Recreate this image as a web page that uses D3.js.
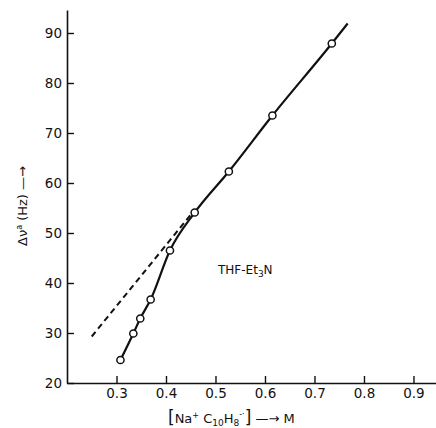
<!DOCTYPE html>
<html><head><meta charset="utf-8">
<script src="https://cdn.jsdelivr.net/npm/d3@7"></script>
<style>
body{margin:0;background:#fff;}
text{font-family:"DejaVu Sans",sans-serif;fill:#111;}
</style></head>
<body><svg id="c" width="436" height="428"></svg>
<script>
// measured points
const concM = [0.308, 0.334, 0.348, 0.369, 0.408, 0.458, 0.527, 0.615, 0.735];
const shiftHz = [24.6, 29.9, 32.9, 36.7, 46.5, 54.1, 62.3, 73.5, 87.9];
// smooth curve continues beyond last point
const curveEndX = [0.767];
const curveEndY = [91.9];
// dashed linear extrapolation
const dashX = [0.25, 0.452];
const dashY = [29.3, 53.9];
const xTicks = [0.3, 0.4, 0.5, 0.6, 0.7, 0.8, 0.9];
const xTickLabels = ["0.3","0.4","0.5","0.6","0.7","0.8","0.9"];
const yTicks = [20, 30, 40, 50, 60, 70, 80, 90];
const yTickLabels = ["20","30","40","50","60","70","80","90"];

const svg = d3.select("#c");
const x = d3.scaleLinear().domain([0.2, 0.9455]).range([67, 436]);
const y = d3.scaleLinear().domain([20, 94.6]).range([383, 10]);

const xAxis = d3.axisBottom(x).tickValues(xTicks).tickFormat((d,i)=>xTickLabels[i])
  .tickSizeInner(-7).tickSizeOuter(0).tickPadding(5);
const yAxis = d3.axisLeft(y).tickValues(yTicks).tickFormat((d,i)=>yTickLabels[i])
  .tickSizeInner(-7).tickSizeOuter(0).tickPadding(5);

const gx = svg.append("g").attr("transform","translate(0,383)").call(xAxis);
const gy = svg.append("g").attr("transform","translate(67,0)").call(yAxis);
[gx,gy].forEach(g=>{
  g.select(".domain").attr("stroke","#111").attr("stroke-width",1.6);
  g.selectAll(".tick line").attr("stroke","#111").attr("stroke-width",1.4);
  g.selectAll(".tick text").style("font-size","13.5px").style("font-family","DejaVu Sans, sans-serif").attr("fill","#111");
});

// dashed line
const dashData = dashX.map((d,i)=>[d, dashY[i]]);
svg.append("path").datum(dashData)
  .attr("d", d3.line().x(d=>x(d[0])).y(d=>y(d[1])))
  .attr("fill","none").attr("stroke","#111").attr("stroke-width",2)
  .attr("stroke-dasharray","6,4");

// solid curve
const curveData = concM.map((d,i)=>[d, shiftHz[i]]).concat(curveEndX.map((d,i)=>[d, curveEndY[i]]));
svg.append("path").datum(curveData)
  .attr("d", d3.line().x(d=>x(d[0])).y(d=>y(d[1])).curve(d3.curveMonotoneX))
  .attr("fill","none").attr("stroke","#111").attr("stroke-width",2.2);

// markers
svg.selectAll("circle.pt").data(concM).enter().append("circle")
  .attr("class","pt")
  .attr("cx", d=>x(d)).attr("cy", (d,i)=>y(shiftHz[i]))
  .attr("r",3.6).attr("fill","#fff").attr("stroke","#111").attr("stroke-width",1.5);

// annotation
const ann = svg.append("text").attr("x",218).attr("y",274).style("font-size","12px");
ann.append("tspan").text("THF-Et");
ann.append("tspan").attr("dy",3).style("font-size","9px").text("3");
ann.append("tspan").attr("dy",-3).text("N");

// x label
const xl = svg.append("text").attr("x",168).attr("y",423).style("font-size","13px");
xl.append("tspan").style("font-size","17px").text("[");
xl.append("tspan").text("Na");
xl.append("tspan").attr("dy",-5).style("font-size","8px").text("+");
xl.append("tspan").attr("dy",5).text(" C");
xl.append("tspan").attr("dy",3).style("font-size","9px").text("10");
xl.append("tspan").attr("dy",-3).text("H");
xl.append("tspan").attr("dy",3).style("font-size","9px").text("8");
xl.append("tspan").attr("dy",-9).style("font-size","8px").text("-·");
xl.append("tspan").attr("dy",6).style("font-size","17px").text("]");
xl.append("tspan").text(" \u2014\u2192 M");

// y label
const yl = svg.append("text").attr("transform","translate(27,246) rotate(-90)").style("font-size","13px");
yl.append("tspan").text("\u0394\u03bd");
yl.append("tspan").attr("dy",-5).style("font-size","8px").text("a");
yl.append("tspan").attr("dy",5).text(" (Hz) ");
yl.append("tspan").text("\u2014\u2192");
</script></body></html>
